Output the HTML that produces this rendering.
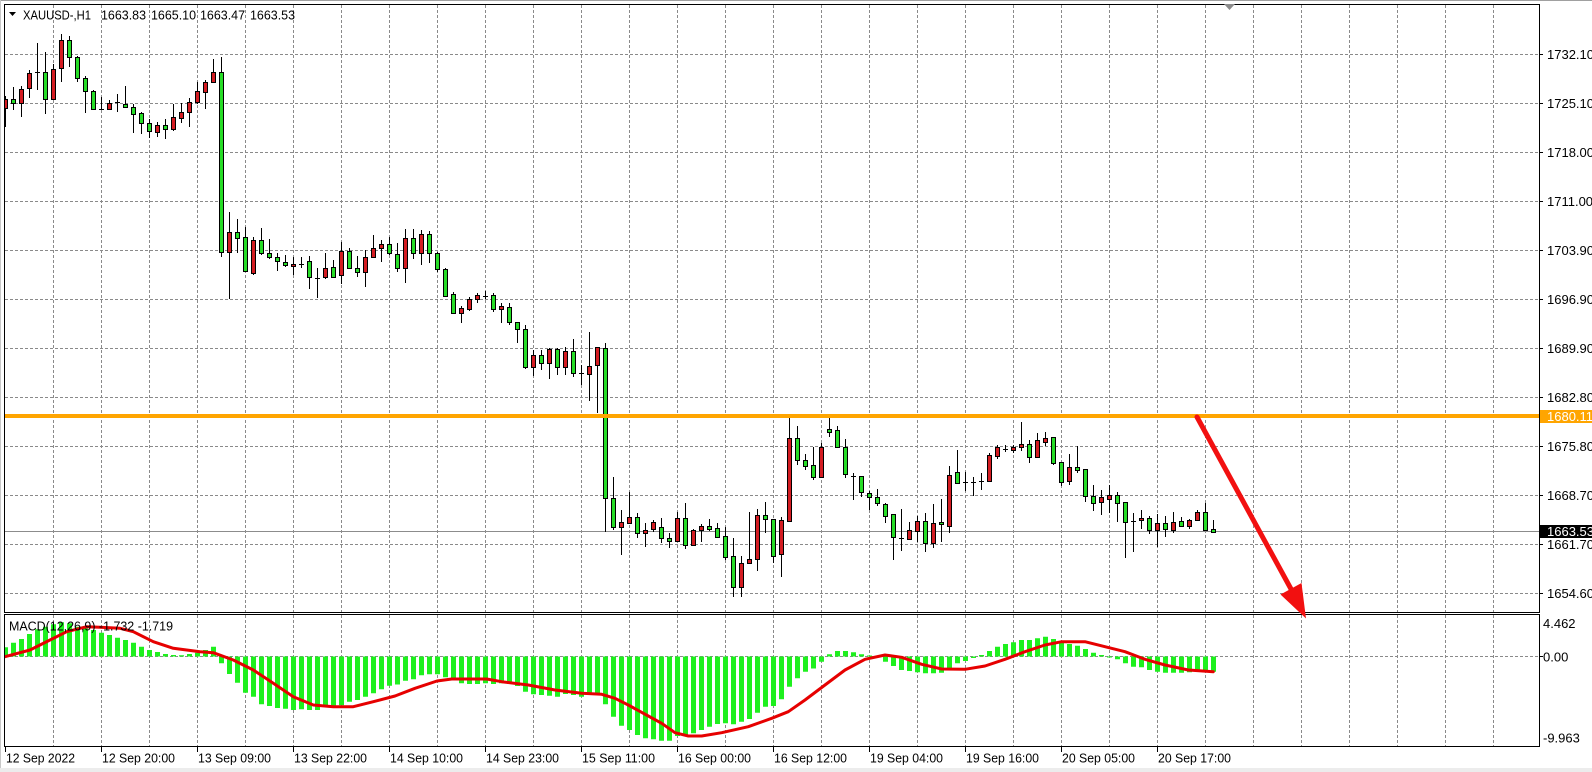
<!DOCTYPE html>
<html><head><meta charset="utf-8"><style>
html,body{margin:0;padding:0;background:#fff;width:1592px;height:772px;overflow:hidden}
svg{display:block}
text{font-family:"Liberation Sans",Arial,sans-serif;font-size:13px;fill:#000}
</style></head><body>
<svg width="1592" height="772" viewBox="0 0 1592 772" xmlns="http://www.w3.org/2000/svg">
<defs>
<clipPath id="cm"><rect x="5" y="5" width="1534" height="607"/></clipPath>
<clipPath id="cd"><rect x="5" y="615" width="1534" height="131"/></clipPath>
</defs>
<rect x="0" y="0" width="1592" height="772" fill="#fff"/>
<rect x="0" y="0" width="1592" height="1" fill="#a0a0a0"/>
<rect x="0" y="768" width="1592" height="4" fill="#ececec"/>
<rect x="0" y="0" width="1" height="768" fill="#c8c8c8"/>

<!-- grid main -->
<g stroke="#8a8a8a" stroke-width="1" stroke-dasharray="3,2" fill="none">
<path d="M5 54.5H1543M5 103.5H1543M5 152.5H1543M5 201.5H1543M5 250.5H1543M5 299.5H1543M5 348.5H1543M5 397.5H1543M5 446.5H1543M5 495.5H1543M5 544.5H1543M5 593.5H1543"/>
<path d="M53.5 5V612M101.5 5V612M149.5 5V612M197.5 5V612M245.5 5V612M293.5 5V612M341.5 5V612M389.5 5V612M437.5 5V612M485.5 5V612M533.5 5V612M581.5 5V612M629.5 5V612M677.5 5V612M725.5 5V612M773.5 5V612M821.5 5V612M869.5 5V612M917.5 5V612M965.5 5V612M1013.5 5V612M1061.5 5V612M1109.5 5V612M1157.5 5V612M1205.5 5V612M1253.5 5V612M1301.5 5V612M1349.5 5V612M1397.5 5V612M1445.5 5V612M1493.5 5V612"/>
<path d="M53.5 615V746M101.5 615V746M149.5 615V746M197.5 615V746M245.5 615V746M293.5 615V746M341.5 615V746M389.5 615V746M437.5 615V746M485.5 615V746M533.5 615V746M581.5 615V746M629.5 615V746M677.5 615V746M725.5 615V746M773.5 615V746M821.5 615V746M869.5 615V746M917.5 615V746M965.5 615V746M1013.5 615V746M1061.5 615V746M1109.5 615V746M1157.5 615V746M1205.5 615V746M1253.5 615V746M1301.5 615V746M1349.5 615V746M1397.5 615V746M1445.5 615V746M1493.5 615V746"/>
<path d="M5 656.5H1543"/>
</g>

<!-- current price line -->
<path d="M5 531.5H1539" stroke="#8c8c8c" stroke-width="1"/>

<g clip-path="url(#cm)">
<!-- wicks -->
<path stroke="#000" stroke-width="1" fill="none" d="M5.5 96V127M13.5 87V110M21.5 86V117M29.5 70V98M37.5 43V90M45.5 52V114M53.5 64V100M61.5 34V82M69.5 36V67M77.5 56V82M85.5 76V113M93.5 90V110M101.5 97V110M109.5 100V110M117.5 94V112M125.5 86V108M133.5 104V133M141.5 112V134M149.5 119V138M157.5 122V137M165.5 119V139M173.5 104V131M181.5 103V123M189.5 98V127M197.5 82V104M205.5 80V109M213.5 59V83M221.5 57V257M229.5 212V299M237.5 219V253M245.5 227V271M253.5 237V275M261.5 228V255M269.5 239V259M277.5 253V271M285.5 255V267M293.5 257V275M301.5 257V268M309.5 256V289M317.5 268V298M325.5 253V279M333.5 260V278M341.5 242V284M349.5 248V269M357.5 256V277M365.5 250V287M373.5 235V257M381.5 240V262M389.5 237V255M397.5 243V272M405.5 229V283M413.5 229V259M421.5 230V265M429.5 231V263M437.5 252V272M445.5 268V296M453.5 292V313M461.5 306V323M469.5 297V311M477.5 293V303M485.5 291V299M493.5 293V312M501.5 303V323M509.5 303V325M517.5 322V343M525.5 325V369M533.5 350V376M541.5 350V370M549.5 348V379M557.5 348V375M565.5 347V375M573.5 339V377M581.5 365V385M589.5 332V401M597.5 347V413M605.5 343V532M613.5 477V530M621.5 510V555M629.5 492V523M637.5 513V538M645.5 523V547M653.5 520V532M661.5 518V543M669.5 533V548M677.5 512V542M685.5 503V549M693.5 529V546M701.5 524V542M709.5 519V531M717.5 523V538M725.5 527V560M733.5 538V597M741.5 556V597M749.5 512V564M757.5 509V571M765.5 502V533M773.5 519V563M781.5 517V577M789.5 418V522M797.5 426V465M805.5 454V470M813.5 447V480M821.5 443V477M829.5 418V437M837.5 426V448M845.5 439V478M853.5 473V500M861.5 476V497M869.5 491V510M877.5 489V506M885.5 503V523M893.5 514V560M901.5 509V551M909.5 522V540M917.5 516V542M925.5 513V552M933.5 504V548M941.5 499V542M949.5 466V533M957.5 450V483M965.5 472V491M973.5 477V496M981.5 473V490M989.5 453V481M997.5 445V459M1005.5 445V452M1013.5 445V453M1021.5 422V451M1029.5 440V463M1037.5 433V457M1045.5 432V446M1053.5 437V465M1061.5 462V486M1069.5 454V485M1077.5 446V473M1085.5 469V502M1093.5 485V511M1101.5 490V515M1109.5 485V513M1117.5 492V522M1125.5 502V558M1133.5 513V552M1141.5 510V529M1149.5 516V534M1157.5 514V547M1165.5 516V537M1173.5 512V533M1181.5 517V527M1189.5 519V529M1197.5 510V520M1205.5 503V531M1213.5 520V533"/>
<!-- doji -->
<path stroke="#000" stroke-width="1" fill="none" d="M35 72.5h5M99 109.5h5M115 102.5h5M299 264.5h5M315 278.5h5M483 296.5h5M579 373.5h5M851 476.5h5M899 538.5h5M963 482.5h5M971 482.5h5M979 481.5h5M1003 449.5h5M1131 521.5h5"/>
<!-- red (bullish) bodies -->
<g fill="#d41c22" stroke="#000" stroke-width="1">
<rect x="3.5" y="99.5" width="4" height="9"/>
<rect x="19.5" y="89.5" width="4" height="14"/>
<rect x="27.5" y="73.5" width="4" height="15"/>
<rect x="51.5" y="69.5" width="4" height="30"/>
<rect x="59.5" y="40.5" width="4" height="28"/>
<rect x="107.5" y="103.5" width="4" height="6"/>
<rect x="155.5" y="125.5" width="4" height="7"/>
<rect x="171.5" y="117.5" width="4" height="12"/>
<rect x="179.5" y="112.5" width="4" height="6"/>
<rect x="187.5" y="102.5" width="4" height="10"/>
<rect x="195.5" y="91.5" width="4" height="11"/>
<rect x="203.5" y="82.5" width="4" height="10"/>
<rect x="211.5" y="72.5" width="4" height="10"/>
<rect x="227.5" y="232.5" width="4" height="20"/>
<rect x="251.5" y="240.5" width="4" height="33"/>
<rect x="291.5" y="264.5" width="4" height="2"/>
<rect x="323.5" y="268.5" width="4" height="9"/>
<rect x="339.5" y="251.5" width="4" height="24"/>
<rect x="363.5" y="257.5" width="4" height="15"/>
<rect x="371.5" y="248.5" width="4" height="9"/>
<rect x="379.5" y="244.5" width="4" height="4"/>
<rect x="403.5" y="238.5" width="4" height="30"/>
<rect x="419.5" y="234.5" width="4" height="19"/>
<rect x="459.5" y="308.5" width="4" height="5"/>
<rect x="467.5" y="299.5" width="4" height="10"/>
<rect x="475.5" y="295.5" width="4" height="4"/>
<rect x="499.5" y="306.5" width="4" height="3"/>
<rect x="531.5" y="355.5" width="4" height="12"/>
<rect x="547.5" y="349.5" width="4" height="14"/>
<rect x="563.5" y="351.5" width="4" height="16"/>
<rect x="587.5" y="366.5" width="4" height="8"/>
<rect x="595.5" y="347.5" width="4" height="18"/>
<rect x="619.5" y="522.5" width="4" height="5"/>
<rect x="627.5" y="517.5" width="4" height="6"/>
<rect x="643.5" y="530.5" width="4" height="3"/>
<rect x="651.5" y="522.5" width="4" height="7"/>
<rect x="675.5" y="518.5" width="4" height="23"/>
<rect x="691.5" y="530.5" width="4" height="15"/>
<rect x="699.5" y="526.5" width="4" height="4"/>
<rect x="739.5" y="563.5" width="4" height="24"/>
<rect x="747.5" y="559.5" width="4" height="4"/>
<rect x="755.5" y="515.5" width="4" height="44"/>
<rect x="779.5" y="520.5" width="4" height="34"/>
<rect x="787.5" y="438.5" width="4" height="83"/>
<rect x="819.5" y="447.5" width="4" height="30"/>
<rect x="907.5" y="530.5" width="4" height="9"/>
<rect x="915.5" y="521.5" width="4" height="10"/>
<rect x="931.5" y="523.5" width="4" height="20"/>
<rect x="947.5" y="475.5" width="4" height="51"/>
<rect x="987.5" y="455.5" width="4" height="26"/>
<rect x="995.5" y="447.5" width="4" height="9"/>
<rect x="1011.5" y="447.5" width="4" height="3"/>
<rect x="1019.5" y="444.5" width="4" height="3"/>
<rect x="1035.5" y="440.5" width="4" height="17"/>
<rect x="1043.5" y="438.5" width="4" height="4"/>
<rect x="1067.5" y="467.5" width="4" height="14"/>
<rect x="1099.5" y="497.5" width="4" height="5"/>
<rect x="1107.5" y="495.5" width="4" height="4"/>
<rect x="1139.5" y="518.5" width="4" height="2"/>
<rect x="1155.5" y="523.5" width="4" height="7"/>
<rect x="1171.5" y="522.5" width="4" height="8"/>
<rect x="1187.5" y="520.5" width="4" height="6"/>
<rect x="1195.5" y="512.5" width="4" height="8"/>
</g>
<!-- green (bearish) bodies -->
<g fill="#27dd27" stroke="#000" stroke-width="1">
<rect x="11.5" y="99.5" width="4" height="4"/>
<rect x="43.5" y="72.5" width="4" height="27"/>
<rect x="67.5" y="40.5" width="4" height="17"/>
<rect x="75.5" y="57.5" width="4" height="21"/>
<rect x="83.5" y="78.5" width="4" height="13"/>
<rect x="91.5" y="91.5" width="4" height="18"/>
<rect x="123.5" y="104.5" width="4" height="3"/>
<rect x="131.5" y="107.5" width="4" height="7"/>
<rect x="139.5" y="113.5" width="4" height="10"/>
<rect x="147.5" y="123.5" width="4" height="8"/>
<rect x="163.5" y="125.5" width="4" height="4"/>
<rect x="219.5" y="72.5" width="4" height="180"/>
<rect x="235.5" y="232.5" width="4" height="6"/>
<rect x="243.5" y="237.5" width="4" height="34"/>
<rect x="259.5" y="240.5" width="4" height="13"/>
<rect x="267.5" y="253.5" width="4" height="4"/>
<rect x="275.5" y="257.5" width="4" height="4"/>
<rect x="283.5" y="262.5" width="4" height="3"/>
<rect x="307.5" y="261.5" width="4" height="16"/>
<rect x="331.5" y="267.5" width="4" height="10"/>
<rect x="347.5" y="251.5" width="4" height="17"/>
<rect x="355.5" y="268.5" width="4" height="4"/>
<rect x="387.5" y="244.5" width="4" height="9"/>
<rect x="395.5" y="254.5" width="4" height="14"/>
<rect x="411.5" y="238.5" width="4" height="15"/>
<rect x="427.5" y="234.5" width="4" height="19"/>
<rect x="435.5" y="253.5" width="4" height="16"/>
<rect x="443.5" y="269.5" width="4" height="27"/>
<rect x="451.5" y="294.5" width="4" height="19"/>
<rect x="491.5" y="295.5" width="4" height="14"/>
<rect x="507.5" y="307.5" width="4" height="15"/>
<rect x="515.5" y="322.5" width="4" height="7"/>
<rect x="523.5" y="329.5" width="4" height="38"/>
<rect x="539.5" y="355.5" width="4" height="8"/>
<rect x="555.5" y="349.5" width="4" height="18"/>
<rect x="571.5" y="351.5" width="4" height="22"/>
<rect x="603.5" y="348.5" width="4" height="150"/>
<rect x="611.5" y="498.5" width="4" height="29"/>
<rect x="635.5" y="517.5" width="4" height="16"/>
<rect x="659.5" y="527.5" width="4" height="11"/>
<rect x="667.5" y="538.5" width="4" height="3"/>
<rect x="683.5" y="518.5" width="4" height="27"/>
<rect x="707.5" y="526.5" width="4" height="3"/>
<rect x="715.5" y="528.5" width="4" height="9"/>
<rect x="723.5" y="536.5" width="4" height="21"/>
<rect x="731.5" y="556.5" width="4" height="31"/>
<rect x="763.5" y="515.5" width="4" height="4"/>
<rect x="771.5" y="519.5" width="4" height="37"/>
<rect x="795.5" y="438.5" width="4" height="22"/>
<rect x="803.5" y="460.5" width="4" height="6"/>
<rect x="811.5" y="465.5" width="4" height="12"/>
<rect x="827.5" y="429.5" width="4" height="3"/>
<rect x="835.5" y="430.5" width="4" height="17"/>
<rect x="843.5" y="447.5" width="4" height="27"/>
<rect x="859.5" y="476.5" width="4" height="16"/>
<rect x="867.5" y="493.5" width="4" height="4"/>
<rect x="875.5" y="497.5" width="4" height="6"/>
<rect x="883.5" y="504.5" width="4" height="12"/>
<rect x="891.5" y="514.5" width="4" height="23"/>
<rect x="923.5" y="521.5" width="4" height="22"/>
<rect x="939.5" y="522.5" width="4" height="2"/>
<rect x="955.5" y="472.5" width="4" height="11"/>
<rect x="1027.5" y="444.5" width="4" height="13"/>
<rect x="1051.5" y="437.5" width="4" height="26"/>
<rect x="1059.5" y="462.5" width="4" height="20"/>
<rect x="1075.5" y="467.5" width="4" height="3"/>
<rect x="1083.5" y="469.5" width="4" height="27"/>
<rect x="1091.5" y="496.5" width="4" height="7"/>
<rect x="1115.5" y="495.5" width="4" height="8"/>
<rect x="1123.5" y="502.5" width="4" height="20"/>
<rect x="1147.5" y="518.5" width="4" height="12"/>
<rect x="1163.5" y="523.5" width="4" height="6"/>
<rect x="1179.5" y="521.5" width="4" height="5"/>
<rect x="1203.5" y="512.5" width="4" height="18"/>
<rect x="1211.5" y="529.5" width="4" height="3"/>
</g>
</g>

<!-- orange level line -->
<rect x="5" y="414" width="1534" height="4" fill="#ffa500"/>

<!-- MACD -->
<g clip-path="url(#cd)">
<path stroke="#1ef01e" stroke-width="5" fill="none" d="M5.5 656.5V647.3M13.5 656.5V642.7M21.5 656.5V639M29.5 656.5V634M37.5 656.5V629.3M45.5 656.5V626.7M53.5 656.5V624.3M61.5 656.5V622.3M69.5 656.5V623.3M77.5 656.5V626.7M85.5 656.5V628.3M93.5 656.5V630M101.5 656.5V632.7M109.5 656.5V635M117.5 656.5V637.7M125.5 656.5V640M133.5 656.5V642.7M141.5 656.5V646.7M149.5 656.5V650M157.5 656.5V652M165.5 656.5V654M173.5 656.5V655M181.5 656.5V655.3M189.5 656.5V654M197.5 656.5V652.7M205.5 656.5V650M213.5 656.5V646.7M221.5 656.5V663.3M229.5 656.5V674M237.5 656.5V682.7M245.5 656.5V692.7M253.5 656.5V696.7M261.5 656.5V704.3M269.5 656.5V706M277.5 656.5V708M285.5 656.5V708.7M293.5 656.5V710M301.5 656.5V709.3M309.5 656.5V710M317.5 656.5V710M325.5 656.5V706.7M333.5 656.5V706M341.5 656.5V705.3M349.5 656.5V701.7M357.5 656.5V700M365.5 656.5V696.7M373.5 656.5V693.3M381.5 656.5V689.3M389.5 656.5V685.7M397.5 656.5V684.5M405.5 656.5V680.7M413.5 656.5V679.3M421.5 656.5V675.3M429.5 656.5V674.3M437.5 656.5V674.3M445.5 656.5V677.3M453.5 656.5V680M461.5 656.5V683.3M469.5 656.5V684M477.5 656.5V684M485.5 656.5V683.3M493.5 656.5V684M501.5 656.5V683.3M509.5 656.5V684M517.5 656.5V686M525.5 656.5V691.7M533.5 656.5V694.3M541.5 656.5V695M549.5 656.5V695.7M557.5 656.5V696.7M565.5 656.5V694M573.5 656.5V695M581.5 656.5V696.7M589.5 656.5V694.3M597.5 656.5V695M605.5 656.5V704.3M613.5 656.5V716.7M621.5 656.5V725.7M629.5 656.5V730M637.5 656.5V735M645.5 656.5V738.3M653.5 656.5V739.3M661.5 656.5V740.7M669.5 656.5V740.7M677.5 656.5V736M685.5 656.5V735M693.5 656.5V733.3M701.5 656.5V730M709.5 656.5V726.7M717.5 656.5V724M725.5 656.5V723.3M733.5 656.5V724.3M741.5 656.5V721.7M749.5 656.5V719M757.5 656.5V712.7M765.5 656.5V706.7M773.5 656.5V706M781.5 656.5V699.3M789.5 656.5V686.7M797.5 656.5V678.3M805.5 656.5V671.7M813.5 656.5V668.5M821.5 656.5V661.7M829.5 656.5V654.3M837.5 656.5V651M845.5 656.5V651M853.5 656.5V652.3M861.5 656.5V654.3M869.5 656.5V655.5M877.5 656.5V657.5M885.5 656.5V661.7M893.5 656.5V666M901.5 656.5V670M909.5 656.5V671M917.5 656.5V672.3M925.5 656.5V673.3M933.5 656.5V673.3M941.5 656.5V672.7M949.5 656.5V668.3M957.5 656.5V663.3M965.5 656.5V661M973.5 656.5V658M981.5 656.5V655M989.5 656.5V651M997.5 656.5V646.7M1005.5 656.5V644M1013.5 656.5V642.3M1021.5 656.5V640M1029.5 656.5V640M1037.5 656.5V638.3M1045.5 656.5V636.7M1053.5 656.5V639M1061.5 656.5V641.7M1069.5 656.5V644M1077.5 656.5V645.7M1085.5 656.5V649M1093.5 656.5V652.7M1101.5 656.5V655M1109.5 656.5V657.5M1117.5 656.5V659.3M1125.5 656.5V663.3M1133.5 656.5V666.7M1141.5 656.5V667.3M1149.5 656.5V670M1157.5 656.5V671.7M1165.5 656.5V672.7M1173.5 656.5V672.7M1181.5 656.5V672.7M1189.5 656.5V672.3M1197.5 656.5V671.7M1205.5 656.5V671.7M1213.5 656.5V671.7"/>
<polyline fill="none" stroke="#e60000" stroke-width="3" stroke-linejoin="round" stroke-linecap="round" points="5,656.7 30,650 50,640 66.7,631.7 86.7,626.7 100,627.3 120,628.3 133.3,631.7 153.3,641.7 173.3,648.3 200,651.7 213.3,652.7 233.3,660 253.3,670 273.3,683.3 293.3,696.7 313.3,705 333.3,706.7 353.3,706.7 373.3,701.7 395,696 415,688.3 437,681 451.7,679 486.7,679 501.7,681.7 528.3,685 555,690 581.7,693.3 601.7,694.3 615,698.3 628.3,705 648.3,716 661.7,723.3 675,732.7 688.3,736 701.7,736 721.7,732.7 748.3,726.7 771.7,718.3 788.3,711.7 805,700 818.3,690 845,670 865,659.3 885,655 901.7,657.3 921.7,664.3 941.7,669 965,669.3 985,666 1005,659.3 1025,651.7 1045,645 1061.7,641.7 1085,641.7 1105,646.7 1125,651.7 1145,659.3 1165,665 1188.3,670 1213.3,671.7"/>
</g>

<!-- frames -->
<rect x="4.5" y="4.5" width="1535" height="608" fill="none" stroke="#000" stroke-width="1"/>
<rect x="4.5" y="614.5" width="1535" height="132" fill="none" stroke="#000" stroke-width="1"/>

<!-- axis ticks -->
<path stroke="#000" stroke-width="1" d="M1540 54.5h3M1540 103.5h3M1540 152.5h3M1540 201.5h3M1540 250.5h3M1540 299.5h3M1540 348.5h3M1540 397.5h3M1540 446.5h3M1540 495.5h3M1540 544.5h3M1540 593.5h3M1540 656.5h3M5.5 747v5M101.5 747v5M197.5 747v5M293.5 747v5M389.5 747v5M485.5 747v5M581.5 747v5M677.5 747v5M773.5 747v5M869.5 747v5M965.5 747v5M1061.5 747v5M1157.5 747v5"/>

<!-- chart shift marker -->
<polygon points="1224,4 1235,4 1229.5,10" fill="#8c8c8c"/>

<!-- header -->
<polygon points="9,12 16,12 12.5,16" fill="#000"/>
<text x="23" y="19.5" textLength="68" lengthAdjust="spacingAndGlyphs">XAUUSD-,H1</text>
<text x="101" y="19.5" textLength="45" lengthAdjust="spacingAndGlyphs">1663.83</text>
<text x="151" y="19.5" textLength="45" lengthAdjust="spacingAndGlyphs">1665.10</text>
<text x="200" y="19.5" textLength="45" lengthAdjust="spacingAndGlyphs">1663.47</text>
<text x="250" y="19.5" textLength="45" lengthAdjust="spacingAndGlyphs">1663.53</text>

<text x="9" y="630.5" textLength="164" lengthAdjust="spacingAndGlyphs">MACD(12,26,9) -1.732 -1.719</text>

<!-- price axis -->
<g>
<text x="1547" y="59">1732.10</text>
<text x="1547" y="108">1725.10</text>
<text x="1547" y="157">1718.00</text>
<text x="1547" y="206">1711.00</text>
<text x="1547" y="255">1703.90</text>
<text x="1547" y="304">1696.90</text>
<text x="1547" y="353">1689.90</text>
<text x="1547" y="402">1682.80</text>
<text x="1547" y="451">1675.80</text>
<text x="1547" y="500">1668.70</text>
<text x="1547" y="549">1661.70</text>
<text x="1547" y="598">1654.60</text>
</g>
<rect x="1540" y="410" width="52" height="13" fill="#ffa500"/>
<text x="1547" y="421" style="fill:#fff">1680.11</text>
<rect x="1540" y="525" width="52" height="13" fill="#000"/>
<text x="1547" y="536" style="fill:#fff">1663.53</text>

<text x="1543" y="628">4.462</text>
<text x="1543" y="661.5">0.00</text>
<text x="1543" y="742.5">-9.963</text>

<!-- time axis -->
<g>
<text x="6" y="762.5" textLength="69" lengthAdjust="spacingAndGlyphs">12 Sep 2022</text>
<text x="102" y="762.5" textLength="73" lengthAdjust="spacingAndGlyphs">12 Sep 20:00</text>
<text x="198" y="762.5" textLength="73" lengthAdjust="spacingAndGlyphs">13 Sep 09:00</text>
<text x="294" y="762.5" textLength="73" lengthAdjust="spacingAndGlyphs">13 Sep 22:00</text>
<text x="390" y="762.5" textLength="73" lengthAdjust="spacingAndGlyphs">14 Sep 10:00</text>
<text x="486" y="762.5" textLength="73" lengthAdjust="spacingAndGlyphs">14 Sep 23:00</text>
<text x="582" y="762.5" textLength="73" lengthAdjust="spacingAndGlyphs">15 Sep 11:00</text>
<text x="678" y="762.5" textLength="73" lengthAdjust="spacingAndGlyphs">16 Sep 00:00</text>
<text x="774" y="762.5" textLength="73" lengthAdjust="spacingAndGlyphs">16 Sep 12:00</text>
<text x="870" y="762.5" textLength="73" lengthAdjust="spacingAndGlyphs">19 Sep 04:00</text>
<text x="966" y="762.5" textLength="73" lengthAdjust="spacingAndGlyphs">19 Sep 16:00</text>
<text x="1062" y="762.5" textLength="73" lengthAdjust="spacingAndGlyphs">20 Sep 05:00</text>
<text x="1158" y="762.5" textLength="73" lengthAdjust="spacingAndGlyphs">20 Sep 17:00</text>
</g>

<!-- red arrow -->
<line x1="1197" y1="417" x2="1291" y2="589" stroke="#f21010" stroke-width="5" stroke-linecap="round"/>
<polygon points="1280.5,594.5 1301.5,583 1306,618.5" fill="#f21010"/>
</svg>
</body></html>
